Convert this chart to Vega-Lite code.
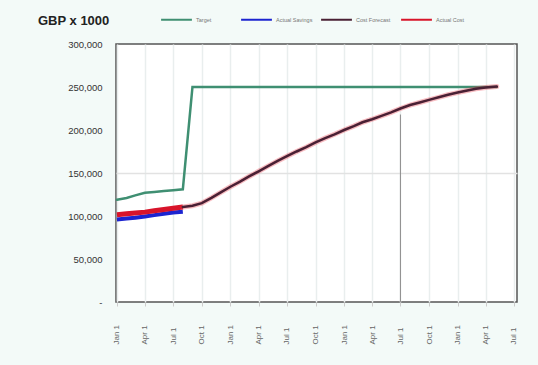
{
  "$schema": "https://vega.github.io/schema/vega-lite/v6.json",
  "width": 401,
  "height": 258,
  "autosize": "none",
  "padding": {"left": 116, "top": 44, "right": 21, "bottom": 63},
  "background": "#f3faf8",
  "title": {
    "text": "GBP x 1000",
    "anchor": "start",
    "frame": "group",
    "dx": -78,
    "offset": -31,
    "baseline": "middle",
    "fontSize": 13,
    "fontWeight": "bold",
    "color": "#222222",
    "font": "Liberation Sans"
  },
  "config": {
    "font": "Liberation Sans",
    "view": {"fill": "#ffffff", "stroke": "#555555", "strokeWidth": 1.5},
    "legend": {
      "orient": "none",
      "legendX": 44,
      "legendY": -41,
      "direction": "horizontal",
      "columns": 4,
      "gridAlign": "all",
      "symbolType": "stroke",
      "symbolSize": 950,
      "symbolStrokeWidth": 2,
      "labelFontSize": 5.5,
      "labelColor": "#777777",
      "columnPadding": 4,
      "labelOffset": 3
    }
  },
  "datasets": {
    "series": [
      {"date": "2011-01-01", "series": "Target", "value": 119000},
      {"date": "2011-02-01", "series": "Target", "value": 121000},
      {"date": "2011-03-01", "series": "Target", "value": 124000},
      {"date": "2011-04-01", "series": "Target", "value": 127000},
      {"date": "2011-05-01", "series": "Target", "value": 128000},
      {"date": "2011-06-01", "series": "Target", "value": 129000},
      {"date": "2011-07-01", "series": "Target", "value": 130000},
      {"date": "2011-08-01", "series": "Target", "value": 131000},
      {"date": "2011-09-01", "series": "Target", "value": 250000},
      {"date": "2014-05-07", "series": "Target", "value": 250000},

      {"date": "2011-01-01", "series": "Actual Savings", "value": 96000},
      {"date": "2011-02-01", "series": "Actual Savings", "value": 97000},
      {"date": "2011-03-01", "series": "Actual Savings", "value": 98000},
      {"date": "2011-04-01", "series": "Actual Savings", "value": 99500},
      {"date": "2011-05-01", "series": "Actual Savings", "value": 101000},
      {"date": "2011-06-01", "series": "Actual Savings", "value": 102500},
      {"date": "2011-07-01", "series": "Actual Savings", "value": 104000},
      {"date": "2011-08-01", "series": "Actual Savings", "value": 105000},

      {"date": "2011-01-01", "series": "Actual Cost", "value": 101500},
      {"date": "2011-02-01", "series": "Actual Cost", "value": 102500},
      {"date": "2011-03-01", "series": "Actual Cost", "value": 103500},
      {"date": "2011-04-01", "series": "Actual Cost", "value": 104500},
      {"date": "2011-05-01", "series": "Actual Cost", "value": 106000},
      {"date": "2011-06-01", "series": "Actual Cost", "value": 107500},
      {"date": "2011-07-01", "series": "Actual Cost", "value": 109000},
      {"date": "2011-08-01", "series": "Actual Cost", "value": 110500},

      {"date": "2011-08-01", "series": "Cost Forecast", "value": 110500},
      {"date": "2011-09-01", "series": "Cost Forecast", "value": 112000},
      {"date": "2011-10-01", "series": "Cost Forecast", "value": 115000},
      {"date": "2011-11-01", "series": "Cost Forecast", "value": 121000},
      {"date": "2011-12-01", "series": "Cost Forecast", "value": 127500},
      {"date": "2012-01-01", "series": "Cost Forecast", "value": 134000},
      {"date": "2012-02-01", "series": "Cost Forecast", "value": 140000},
      {"date": "2012-03-01", "series": "Cost Forecast", "value": 146000},
      {"date": "2012-04-01", "series": "Cost Forecast", "value": 152000},
      {"date": "2012-05-01", "series": "Cost Forecast", "value": 158000},
      {"date": "2012-06-01", "series": "Cost Forecast", "value": 164000},
      {"date": "2012-07-01", "series": "Cost Forecast", "value": 169500},
      {"date": "2012-08-01", "series": "Cost Forecast", "value": 175000},
      {"date": "2012-09-01", "series": "Cost Forecast", "value": 180000},
      {"date": "2012-10-01", "series": "Cost Forecast", "value": 185500},
      {"date": "2012-11-01", "series": "Cost Forecast", "value": 190500},
      {"date": "2012-12-01", "series": "Cost Forecast", "value": 195000},
      {"date": "2013-01-01", "series": "Cost Forecast", "value": 200000},
      {"date": "2013-02-01", "series": "Cost Forecast", "value": 204500},
      {"date": "2013-03-01", "series": "Cost Forecast", "value": 209000},
      {"date": "2013-04-01", "series": "Cost Forecast", "value": 212500},
      {"date": "2013-05-01", "series": "Cost Forecast", "value": 216500},
      {"date": "2013-06-01", "series": "Cost Forecast", "value": 220500},
      {"date": "2013-07-01", "series": "Cost Forecast", "value": 225000},
      {"date": "2013-08-01", "series": "Cost Forecast", "value": 229000},
      {"date": "2013-09-01", "series": "Cost Forecast", "value": 232000},
      {"date": "2013-10-01", "series": "Cost Forecast", "value": 235000},
      {"date": "2013-11-01", "series": "Cost Forecast", "value": 238000},
      {"date": "2013-12-01", "series": "Cost Forecast", "value": 241000},
      {"date": "2014-01-01", "series": "Cost Forecast", "value": 243500},
      {"date": "2014-02-01", "series": "Cost Forecast", "value": 246000},
      {"date": "2014-03-01", "series": "Cost Forecast", "value": 248000},
      {"date": "2014-04-01", "series": "Cost Forecast", "value": 249500},
      {"date": "2014-05-07", "series": "Cost Forecast", "value": 250500}
    ],
    "marker": [
      {"date": "2013-07-01", "value": 218000}
    ]
  },
  "data": {"name": "series"},
  "encoding": {
    "x": {
      "field": "date",
      "type": "temporal",
      "scale": {
        "type": "utc",
        "domain": [
          {"year": 2010, "month": 12, "date": 29, "utc": true},
          {"year": 2014, "month": 7, "date": 11, "utc": true}
        ]
      },
      "axis": {
        "title": null,
        "values": [
          {"year": 2011, "month": 1, "date": 1, "utc": true},
          {"year": 2011, "month": 4, "date": 1, "utc": true},
          {"year": 2011, "month": 7, "date": 1, "utc": true},
          {"year": 2011, "month": 10, "date": 1, "utc": true},
          {"year": 2012, "month": 1, "date": 1, "utc": true},
          {"year": 2012, "month": 4, "date": 1, "utc": true},
          {"year": 2012, "month": 7, "date": 1, "utc": true},
          {"year": 2012, "month": 10, "date": 1, "utc": true},
          {"year": 2013, "month": 1, "date": 1, "utc": true},
          {"year": 2013, "month": 4, "date": 1, "utc": true},
          {"year": 2013, "month": 7, "date": 1, "utc": true},
          {"year": 2013, "month": 10, "date": 1, "utc": true},
          {"year": 2014, "month": 1, "date": 1, "utc": true},
          {"year": 2014, "month": 4, "date": 1, "utc": true},
          {"year": 2014, "month": 7, "date": 1, "utc": true}
        ],
        "format": "%b %-d",
        "labelAngle": -90,
        "labelAlign": "left",
        "labelBaseline": "middle",
        "labelPadding": 38,
        "labelFontSize": 8,
        "labelColor": "#666666",
        "labelOverlap": false,
        "domain": false,
        "ticks": true,
        "tickSize": 4,
        "tickColor": "#cccccc",
        "grid": true,
        "gridColor": "#e9eeee",
        "gridWidth": 1.5
      }
    },
    "y": {
      "field": "value",
      "type": "quantitative",
      "scale": {"domain": [0, 300000], "nice": false},
      "axis": {
        "title": null,
        "values": [0, 50000, 100000, 150000, 200000, 250000, 300000],
        "labelExpr": "datum.value === 0 ? '-' : format(datum.value, ',')",
        "labelFontSize": 9.5,
        "labelColor": "#333333",
        "labelPadding": 14,
        "ticks": false,
        "domain": false,
        "grid": true,
        "gridColor": "#e2e2e2",
        "gridWidth": 1.5,
        "gridOpacity": {"condition": {"test": "datum.value === 150000", "value": 1}, "value": 0}
      }
    }
  },
  "layer": [
    {
      "data": {"name": "marker"},
      "mark": {"type": "rule", "color": "#8c8c8c", "strokeWidth": 1},
      "encoding": {
        "y": {"field": "value", "type": "quantitative"},
        "y2": {"datum": 0}
      }
    },
    {
      "transform": [{"filter": "datum.series === 'Target'"}],
      "mark": {"type": "line", "strokeWidth": 2.5, "strokeCap": "round"},
      "encoding": {
        "color": {
          "field": "series",
          "type": "nominal",
          "scale": {
            "domain": ["Target", "Actual Savings", "Cost Forecast", "Actual Cost"],
            "range": ["#3f8f72", "#1c24d0", "#4a2034", "#d8142a"]
          },
          "legend": {"title": null}
        }
      }
    },
    {
      "transform": [{"filter": "datum.series === 'Actual Savings'"}],
      "mark": {"type": "line", "strokeWidth": 4},
      "encoding": {"color": {"field": "series", "type": "nominal", "legend": {"title": null}}}
    },
    {
      "transform": [{"filter": "datum.series === 'Actual Cost'"}],
      "mark": {"type": "line", "strokeWidth": 5},
      "encoding": {"color": {"field": "series", "type": "nominal", "legend": {"title": null}}}
    },
    {
      "transform": [{"filter": "datum.series === 'Cost Forecast'"}],
      "mark": {"type": "line", "strokeWidth": 5, "color": "#e8404e", "opacity": 0.35, "strokeCap": "round"},
      "encoding": {}
    },
    {
      "transform": [{"filter": "datum.series === 'Cost Forecast'"}],
      "mark": {"type": "line", "strokeWidth": 2.5, "strokeCap": "round"},
      "encoding": {"color": {"field": "series", "type": "nominal", "legend": {"title": null}}}
    }
  ]
}
